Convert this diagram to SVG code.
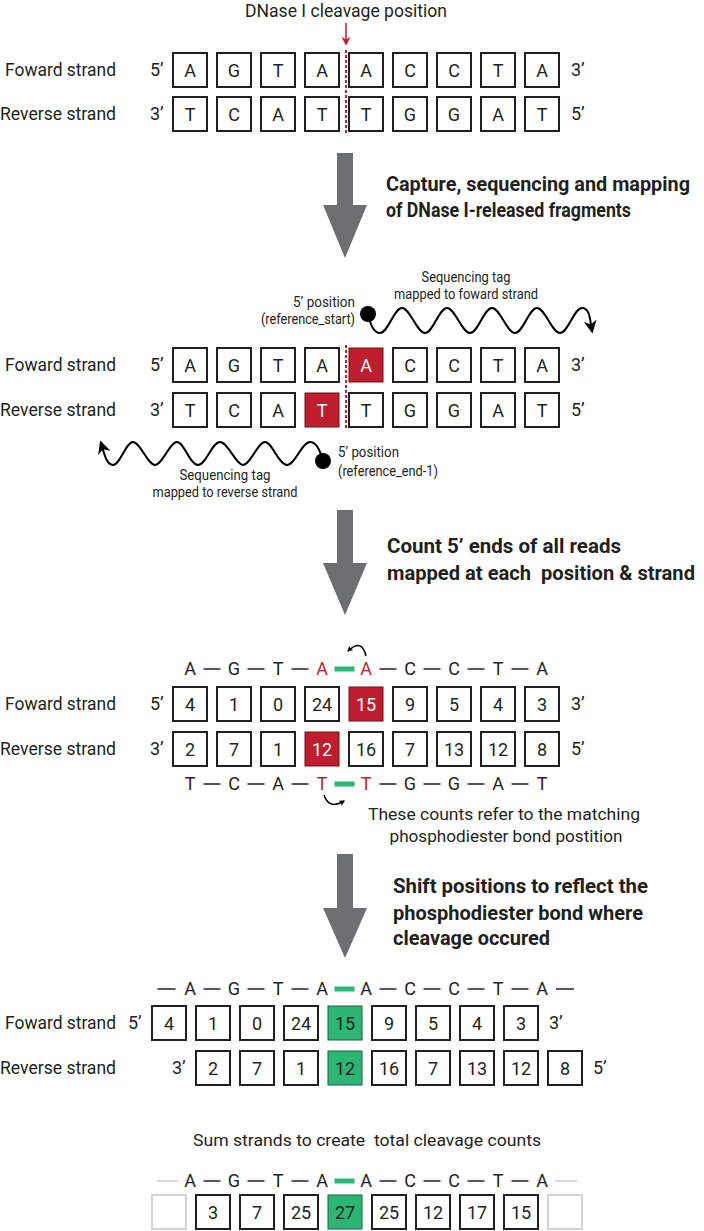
<svg xmlns="http://www.w3.org/2000/svg" width="704" height="1231" viewBox="0 0 704 1231">
<style>
text{font-family:Roboto,"Liberation Sans",sans-serif;fill:#231f20;white-space:pre}
.lb{font-size:18px}
.bx{fill:#fff;stroke:#231f20;stroke-width:2}
.gbx{fill:#fff;stroke:#d4d4d4;stroke-width:2}
.rbx{fill:#be1e2d;stroke:#6e1119;stroke-width:1}
.grn{fill:#2bb673;stroke:#1f5e3d;stroke-width:1}
.bt{font-size:18px;text-anchor:middle}
.wt{fill:#fff}
.rt{fill:#be1e2d}
.sm{font-size:14.5px}
.bold{font-size:21px;font-weight:700}
.bold2{font-size:19.5px;font-weight:700}
.ds{stroke:#231f20;stroke-width:1.5}
.gds{stroke:#cfcfcf;stroke-width:1.5}
.gbar{fill:#2bb673}
.arr{fill:#6d6e71}
.wave{fill:none;stroke:#000;stroke-width:2}
</style>
<defs>
<marker id="ah" viewBox="0 0 10 10" refX="8" refY="5" markerWidth="6" markerHeight="6" orient="auto" markerUnits="userSpaceOnUse">
<path d="M0,0 L10,5 L0,10 L3,5 Z" fill="#000"/>
</marker>
<marker id="ahL" viewBox="0 0 10 10" refX="8" refY="5" markerWidth="13" markerHeight="13" orient="auto" markerUnits="userSpaceOnUse">
<path d="M0,0 L10,5 L0,10 L3,5 Z" fill="#000"/>
</marker>
<marker id="ahR" viewBox="0 0 10 10" refX="8" refY="5" markerWidth="9" markerHeight="9" orient="auto" markerUnits="userSpaceOnUse">
<path d="M0,0 L10,5 L0,10 L3,5 Z" fill="#be1e2d"/>
</marker>
</defs>

<!-- Section 1 -->
<g id="section1">
<text x="346" y="17" font-size="19" text-anchor="middle" textLength="202" lengthAdjust="spacingAndGlyphs">DNase I cleavage position</text>
<text class="lb" x="5" y="76" textLength="111" lengthAdjust="spacingAndGlyphs">Foward strand</text>
<text class="lb" x="0" y="120" textLength="116" lengthAdjust="spacingAndGlyphs">Reverse strand</text>
<text class="lb" x="150" y="76">5’</text><text class="lb" x="571" y="76">3’</text>
<text class="lb" x="150" y="120">3’</text><text class="lb" x="571" y="120">5’</text>
<g id="s1-row1">
<rect class="bx" x="173" y="53" width="34" height="34"/><rect class="bx" x="217" y="53" width="34" height="34"/><rect class="bx" x="261" y="53" width="34" height="34"/><rect class="bx" x="305" y="53" width="34" height="34"/><rect class="bx" x="349" y="53" width="34" height="34"/><rect class="bx" x="393" y="53" width="34" height="34"/><rect class="bx" x="437" y="53" width="34" height="34"/><rect class="bx" x="481" y="53" width="34" height="34"/><rect class="bx" x="525" y="53" width="34" height="34"/>
<text class="bt" x="190" y="76.5">A</text><text class="bt" x="234" y="76.5">G</text><text class="bt" x="278" y="76.5">T</text><text class="bt" x="322" y="76.5">A</text><text class="bt" x="366" y="76.5">A</text><text class="bt" x="410" y="76.5">C</text><text class="bt" x="454" y="76.5">C</text><text class="bt" x="498" y="76.5">T</text><text class="bt" x="542" y="76.5">A</text>
</g>
<g id="s1-row2">
<rect class="bx" x="173" y="97" width="34" height="34"/><rect class="bx" x="217" y="97" width="34" height="34"/><rect class="bx" x="261" y="97" width="34" height="34"/><rect class="bx" x="305" y="97" width="34" height="34"/><rect class="bx" x="349" y="97" width="34" height="34"/><rect class="bx" x="393" y="97" width="34" height="34"/><rect class="bx" x="437" y="97" width="34" height="34"/><rect class="bx" x="481" y="97" width="34" height="34"/><rect class="bx" x="525" y="97" width="34" height="34"/>
<text class="bt" x="190" y="120.5">T</text><text class="bt" x="234" y="120.5">C</text><text class="bt" x="278" y="120.5">A</text><text class="bt" x="322" y="120.5">T</text><text class="bt" x="366" y="120.5">T</text><text class="bt" x="410" y="120.5">G</text><text class="bt" x="454" y="120.5">G</text><text class="bt" x="498" y="120.5">A</text><text class="bt" x="542" y="120.5">T</text>
</g>
</g>

<!-- Section 2 -->
<g id="section2">
<text class="bold2" x="386" y="191" textLength="304" lengthAdjust="spacingAndGlyphs">Capture, sequencing and mapping</text>
<text class="bold" x="386" y="217" textLength="245" lengthAdjust="spacingAndGlyphs">of DNase I-released fragments</text>
<text class="sm" x="466" y="282" text-anchor="middle" textLength="89" lengthAdjust="spacingAndGlyphs">Sequencing tag</text>
<text class="sm" x="466" y="299" text-anchor="middle" textLength="144" lengthAdjust="spacingAndGlyphs">mapped to foward strand</text>
<text class="sm" x="355" y="307" text-anchor="end" textLength="62" lengthAdjust="spacingAndGlyphs">5’ position</text>
<text class="sm" x="355" y="324" text-anchor="end" textLength="94" lengthAdjust="spacingAndGlyphs">(reference_start)</text>
<text class="sm" x="338" y="457" textLength="61" lengthAdjust="spacingAndGlyphs">5’ position</text>
<text class="sm" x="338" y="476" textLength="100" lengthAdjust="spacingAndGlyphs">(reference_end-1)</text>
<text class="sm" x="225" y="480" text-anchor="middle" textLength="91" lengthAdjust="spacingAndGlyphs">Sequencing tag</text>
<text class="sm" x="225" y="497" text-anchor="middle" textLength="145" lengthAdjust="spacingAndGlyphs">mapped to reverse strand</text>
<text class="lb" x="5" y="371" textLength="111" lengthAdjust="spacingAndGlyphs">Foward strand</text>
<text class="lb" x="0" y="416" textLength="116" lengthAdjust="spacingAndGlyphs">Reverse strand</text>
<text class="lb" x="150" y="371">5’</text><text class="lb" x="571" y="371">3’</text>
<text class="lb" x="150" y="416">3’</text><text class="lb" x="571" y="416">5’</text>
<g id="s2-row1">
<rect class="bx" x="173" y="348" width="34" height="34"/><rect class="bx" x="217" y="348" width="34" height="34"/><rect class="bx" x="261" y="348" width="34" height="34"/><rect class="bx" x="305" y="348" width="34" height="34"/><rect class="rbx" x="349" y="348" width="34" height="34"/><rect class="bx" x="393" y="348" width="34" height="34"/><rect class="bx" x="437" y="348" width="34" height="34"/><rect class="bx" x="481" y="348" width="34" height="34"/><rect class="bx" x="525" y="348" width="34" height="34"/>
<text class="bt" x="190" y="371.5">A</text><text class="bt" x="234" y="371.5">G</text><text class="bt" x="278" y="371.5">T</text><text class="bt" x="322" y="371.5">A</text><text class="bt wt" x="366" y="371.5">A</text><text class="bt" x="410" y="371.5">C</text><text class="bt" x="454" y="371.5">C</text><text class="bt" x="498" y="371.5">T</text><text class="bt" x="542" y="371.5">A</text>
</g>
<g id="s2-row2">
<rect class="bx" x="173" y="393" width="34" height="34"/><rect class="bx" x="217" y="393" width="34" height="34"/><rect class="bx" x="261" y="393" width="34" height="34"/><rect class="rbx" x="305" y="393" width="34" height="34"/><rect class="bx" x="349" y="393" width="34" height="34"/><rect class="bx" x="393" y="393" width="34" height="34"/><rect class="bx" x="437" y="393" width="34" height="34"/><rect class="bx" x="481" y="393" width="34" height="34"/><rect class="bx" x="525" y="393" width="34" height="34"/>
<text class="bt" x="190" y="416.5">T</text><text class="bt" x="234" y="416.5">C</text><text class="bt" x="278" y="416.5">A</text><text class="bt wt" x="322" y="416.5">T</text><text class="bt" x="366" y="416.5">T</text><text class="bt" x="410" y="416.5">G</text><text class="bt" x="454" y="416.5">G</text><text class="bt" x="498" y="416.5">A</text><text class="bt" x="542" y="416.5">T</text>
</g>
<circle cx="368" cy="314" r="8" fill="#000"/>
<circle cx="323" cy="461" r="8" fill="#000"/>
</g>

<!-- Section 3 -->
<g id="section3">
<text class="bold" x="387" y="553" textLength="234" lengthAdjust="spacingAndGlyphs">Count 5’ ends of all reads</text>
<text class="bold2" x="387" y="580" textLength="308" lengthAdjust="spacingAndGlyphs">mapped at each  position &amp; strand</text>
<text class="lb" x="5" y="710" textLength="111" lengthAdjust="spacingAndGlyphs">Foward strand</text>
<text class="lb" x="0" y="755" textLength="116" lengthAdjust="spacingAndGlyphs">Reverse strand</text>
<text class="lb" x="150" y="710">5’</text><text class="lb" x="571" y="710">3’</text>
<text class="lb" x="150" y="755">3’</text><text class="lb" x="571" y="755">5’</text>
<g id="s3-seq-top">
<text class="bt" x="190" y="675">A</text><text class="bt" x="234" y="675">G</text><text class="bt" x="278" y="675">T</text><text class="bt rt" x="322" y="675">A</text><text class="bt rt" x="366" y="675">A</text><text class="bt" x="410" y="675">C</text><text class="bt" x="454" y="675">C</text><text class="bt" x="498" y="675">T</text><text class="bt" x="542" y="675">A</text>
</g>
<g id="s3-row1">
<rect class="bx" x="173" y="687" width="34" height="34"/><rect class="bx" x="217" y="687" width="34" height="34"/><rect class="bx" x="261" y="687" width="34" height="34"/><rect class="bx" x="305" y="687" width="34" height="34"/><rect class="rbx" x="349" y="687" width="34" height="34"/><rect class="bx" x="393" y="687" width="34" height="34"/><rect class="bx" x="437" y="687" width="34" height="34"/><rect class="bx" x="481" y="687" width="34" height="34"/><rect class="bx" x="525" y="687" width="34" height="34"/>
<text class="bt" x="190" y="710.5">4</text><text class="bt" x="234" y="710.5">1</text><text class="bt" x="278" y="710.5">0</text><text class="bt" x="322" y="710.5">24</text><text class="bt wt" x="366" y="710.5">15</text><text class="bt" x="410" y="710.5">9</text><text class="bt" x="454" y="710.5">5</text><text class="bt" x="498" y="710.5">4</text><text class="bt" x="542" y="710.5">3</text>
</g>
<g id="s3-row2">
<rect class="bx" x="173" y="732" width="34" height="34"/><rect class="bx" x="217" y="732" width="34" height="34"/><rect class="bx" x="261" y="732" width="34" height="34"/><rect class="rbx" x="305" y="732" width="34" height="34"/><rect class="bx" x="349" y="732" width="34" height="34"/><rect class="bx" x="393" y="732" width="34" height="34"/><rect class="bx" x="437" y="732" width="34" height="34"/><rect class="bx" x="481" y="732" width="34" height="34"/><rect class="bx" x="525" y="732" width="34" height="34"/>
<text class="bt" x="190" y="755.5">2</text><text class="bt" x="234" y="755.5">7</text><text class="bt" x="278" y="755.5">1</text><text class="bt wt" x="322" y="755.5">12</text><text class="bt" x="366" y="755.5">16</text><text class="bt" x="410" y="755.5">7</text><text class="bt" x="454" y="755.5">13</text><text class="bt" x="498" y="755.5">12</text><text class="bt" x="542" y="755.5">8</text>
</g>
<g id="s3-seq-bottom">
<text class="bt" x="190" y="790">T</text><text class="bt" x="234" y="790">C</text><text class="bt" x="278" y="790">A</text><text class="bt rt" x="322" y="790">T</text><text class="bt rt" x="366" y="790">T</text><text class="bt" x="410" y="790">G</text><text class="bt" x="454" y="790">G</text><text class="bt" x="498" y="790">A</text><text class="bt" x="542" y="790">T</text>
</g>
<text x="368" y="820" font-size="17" textLength="272" lengthAdjust="spacingAndGlyphs">These counts refer to the matching</text>
<text x="506" y="842" font-size="17" text-anchor="middle" textLength="233" lengthAdjust="spacingAndGlyphs">phosphodiester bond postition</text>
</g>

<!-- Section 4 -->
<g id="section4">
<text class="bold" x="393" y="893" textLength="255" lengthAdjust="spacingAndGlyphs">Shift positions to reflect the</text>
<text class="bold" x="393" y="920" textLength="250" lengthAdjust="spacingAndGlyphs">phosphodiester bond where</text>
<text class="bold" x="393" y="945" textLength="157" lengthAdjust="spacingAndGlyphs">cleavage occured</text>
<g id="s4-seq">
<text class="bt" x="190" y="995">A</text><text class="bt" x="234" y="995">G</text><text class="bt" x="278" y="995">T</text><text class="bt" x="322" y="995">A</text><text class="bt" x="366" y="995">A</text><text class="bt" x="410" y="995">C</text><text class="bt" x="454" y="995">C</text><text class="bt" x="498" y="995">T</text><text class="bt" x="542" y="995">A</text>
</g>
<text class="lb" x="5" y="1029" textLength="111" lengthAdjust="spacingAndGlyphs">Foward strand</text>
<text class="lb" x="0" y="1074" textLength="116" lengthAdjust="spacingAndGlyphs">Reverse strand</text>
<text class="lb" x="128" y="1029">5’</text><text class="lb" x="549" y="1029">3’</text>
<text class="lb" x="172" y="1074">3’</text><text class="lb" x="593" y="1074">5’</text>
<g id="s4-row1">
<rect class="bx" x="152" y="1006" width="34" height="34"/><rect class="bx" x="196" y="1006" width="34" height="34"/><rect class="bx" x="240" y="1006" width="34" height="34"/><rect class="bx" x="284" y="1006" width="34" height="34"/><rect class="grn" x="328" y="1006" width="34" height="34"/><rect class="bx" x="372" y="1006" width="34" height="34"/><rect class="bx" x="416" y="1006" width="34" height="34"/><rect class="bx" x="460" y="1006" width="34" height="34"/><rect class="bx" x="504" y="1006" width="34" height="34"/>
<text class="bt" x="169" y="1029.5">4</text><text class="bt" x="213" y="1029.5">1</text><text class="bt" x="257" y="1029.5">0</text><text class="bt" x="301" y="1029.5">24</text><text class="bt" x="345" y="1029.5">15</text><text class="bt" x="389" y="1029.5">9</text><text class="bt" x="433" y="1029.5">5</text><text class="bt" x="477" y="1029.5">4</text><text class="bt" x="521" y="1029.5">3</text>
</g>
<g id="s4-row2">
<rect class="bx" x="196" y="1051" width="34" height="34"/><rect class="bx" x="240" y="1051" width="34" height="34"/><rect class="bx" x="284" y="1051" width="34" height="34"/><rect class="grn" x="328" y="1051" width="34" height="34"/><rect class="bx" x="372" y="1051" width="34" height="34"/><rect class="bx" x="416" y="1051" width="34" height="34"/><rect class="bx" x="460" y="1051" width="34" height="34"/><rect class="bx" x="504" y="1051" width="34" height="34"/><rect class="bx" x="548" y="1051" width="34" height="34"/>
<text class="bt" x="213" y="1074.5">2</text><text class="bt" x="257" y="1074.5">7</text><text class="bt" x="301" y="1074.5">1</text><text class="bt" x="345" y="1074.5">12</text><text class="bt" x="389" y="1074.5">16</text><text class="bt" x="433" y="1074.5">7</text><text class="bt" x="477" y="1074.5">13</text><text class="bt" x="521" y="1074.5">12</text><text class="bt" x="565" y="1074.5">8</text>
</g>
</g>

<!-- Section 5 -->
<g id="section5">
<text x="367" y="1146" font-size="17" text-anchor="middle" textLength="348" lengthAdjust="spacingAndGlyphs">Sum strands to create  total cleavage counts</text>
<g id="s5-seq">
<text class="bt" x="190" y="1187">A</text><text class="bt" x="234" y="1187">G</text><text class="bt" x="278" y="1187">T</text><text class="bt" x="322" y="1187">A</text><text class="bt" x="366" y="1187">A</text><text class="bt" x="410" y="1187">C</text><text class="bt" x="454" y="1187">C</text><text class="bt" x="498" y="1187">T</text><text class="bt" x="542" y="1187">A</text>
</g>
<g id="s5-row">
<rect class="gbx" x="152" y="1195" width="34" height="34"/><rect class="bx" x="196" y="1195" width="34" height="34"/><rect class="bx" x="240" y="1195" width="34" height="34"/><rect class="bx" x="284" y="1195" width="34" height="34"/><rect class="grn" x="328" y="1195" width="34" height="34"/><rect class="bx" x="372" y="1195" width="34" height="34"/><rect class="bx" x="416" y="1195" width="34" height="34"/><rect class="bx" x="460" y="1195" width="34" height="34"/><rect class="bx" x="504" y="1195" width="34" height="34"/><rect class="gbx" x="548" y="1195" width="34" height="34"/>
<text class="bt" x="213" y="1218.5">3</text><text class="bt" x="257" y="1218.5">7</text><text class="bt" x="301" y="1218.5">25</text><text class="bt" x="345" y="1218.5">27</text><text class="bt" x="389" y="1218.5">25</text><text class="bt" x="433" y="1218.5">12</text><text class="bt" x="477" y="1218.5">17</text><text class="bt" x="521" y="1218.5">15</text>
</g>
</g>

<!-- Connectors -->
<g id="connectors">
<path class="arr" d="M337,153 H353 V205 H367 L345,258 L323,205 H337 Z"/>
<path class="arr" d="M337,510 H353 V563 H367 L345,615 L323,563 H337 Z"/>
<path class="arr" d="M337,854 H353 V908 H367 L345,958 L323,908 H337 Z"/>
<line x1="346" y1="23" x2="346" y2="44" stroke="#be1e2d" stroke-width="1.5" marker-end="url(#ahR)"/>
<line x1="346" y1="50" x2="346" y2="135" stroke="#be1e2d" stroke-width="2" stroke-dasharray="3,2"/>
<line x1="346" y1="345" x2="346" y2="429" stroke="#be1e2d" stroke-width="2" stroke-dasharray="3,2"/>
<path class="wave" marker-end="url(#ahL)" d="M368,314 Q372,333 380,333 C388,333 394,308 402,308 S417,333 425,333 S439,308 447,308 S462,333 470,333 S484,308 492,308 S507,333 515,333 S529,308 537,308 S552,333 560,333 S574,308 582,308 S590,320 592,331"/>
<path class="wave" marker-end="url(#ahL)" d="M323,461 Q318,442 310,442 C302,442 295,465 287,465 S272,442 265,442 S250,465 243,465 S228,442 220,442 S206,465 198,465 S184,442 177,442 S162,465 155,465 S140,442 133,442 S120,465 113,465 S104,452 101,443"/>
<path d="M366,656 Q362,638 348,651" fill="none" stroke="#000" stroke-width="1.5" marker-end="url(#ah)"/>
<path d="M324,795 Q329,810 344,801" fill="none" stroke="#000" stroke-width="1.5" marker-end="url(#ah)"/>
<g id="s3-dashes-top">
<line class="ds" x1="203.5" y1="669" x2="220.5" y2="669"/><line class="ds" x1="247.5" y1="669" x2="264.5" y2="669"/><line class="ds" x1="291.5" y1="669" x2="308.5" y2="669"/><rect class="gbar" x="334.5" y="666.5" width="20" height="5"/><line class="ds" x1="379.5" y1="669" x2="396.5" y2="669"/><line class="ds" x1="423.5" y1="669" x2="440.5" y2="669"/><line class="ds" x1="467.5" y1="669" x2="484.5" y2="669"/><line class="ds" x1="511.5" y1="669" x2="528.5" y2="669"/>
</g>
<g id="s3-dashes-bottom">
<line class="ds" x1="203.5" y1="784" x2="220.5" y2="784"/><line class="ds" x1="247.5" y1="784" x2="264.5" y2="784"/><line class="ds" x1="291.5" y1="784" x2="308.5" y2="784"/><rect class="gbar" x="334.5" y="781.5" width="20" height="5"/><line class="ds" x1="379.5" y1="784" x2="396.5" y2="784"/><line class="ds" x1="423.5" y1="784" x2="440.5" y2="784"/><line class="ds" x1="467.5" y1="784" x2="484.5" y2="784"/><line class="ds" x1="511.5" y1="784" x2="528.5" y2="784"/>
</g>
<g id="s4-dashes">
<line class="ds" x1="157.5" y1="989" x2="175.5" y2="989"/><line class="ds" x1="203.5" y1="989" x2="220.5" y2="989"/><line class="ds" x1="247.5" y1="989" x2="264.5" y2="989"/><line class="ds" x1="291.5" y1="989" x2="308.5" y2="989"/><rect class="gbar" x="334.5" y="986.5" width="20" height="5"/><line class="ds" x1="379.5" y1="989" x2="396.5" y2="989"/><line class="ds" x1="423.5" y1="989" x2="440.5" y2="989"/><line class="ds" x1="467.5" y1="989" x2="484.5" y2="989"/><line class="ds" x1="511.5" y1="989" x2="528.5" y2="989"/><line class="ds" x1="556" y1="989" x2="574" y2="989"/>
</g>
<g id="s5-dashes">
<line class="gds" x1="157" y1="1181" x2="178" y2="1181"/><line class="ds" x1="203.5" y1="1181" x2="220.5" y2="1181"/><line class="ds" x1="247.5" y1="1181" x2="264.5" y2="1181"/><line class="ds" x1="291.5" y1="1181" x2="308.5" y2="1181"/><rect class="gbar" x="334.5" y="1178.5" width="20" height="5"/><line class="ds" x1="379.5" y1="1181" x2="396.5" y2="1181"/><line class="ds" x1="423.5" y1="1181" x2="440.5" y2="1181"/><line class="ds" x1="467.5" y1="1181" x2="484.5" y2="1181"/><line class="ds" x1="511.5" y1="1181" x2="528.5" y2="1181"/><line class="gds" x1="555" y1="1181" x2="577" y2="1181"/>
</g>
</g>
</svg>
